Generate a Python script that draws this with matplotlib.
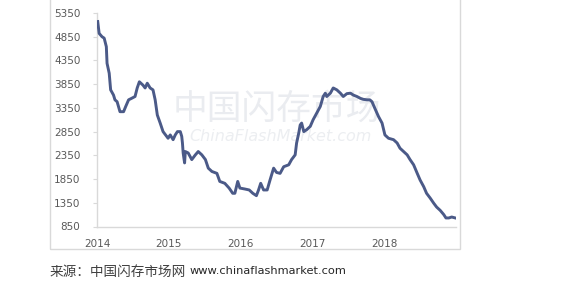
"""Flash price trend 2014-2018, redrawn in the style of the source chart."""

import matplotlib
matplotlib.use("Agg")
import matplotlib.pyplot as plt
from matplotlib.patches import Rectangle

# decimal year, price index
years = [2014.01, 2014.03, 2014.07, 2014.10, 2014.13, 2014.14, 2014.17, 2014.19,
         2014.23, 2014.25, 2014.28, 2014.32, 2014.37, 2014.40, 2014.44, 2014.48,
         2014.53, 2014.56, 2014.59, 2014.64, 2014.67, 2014.70, 2014.74, 2014.78,
         2014.81, 2014.84, 2014.88, 2014.92, 2014.97, 2014.99, 2015.02, 2015.06,
         2015.09, 2015.12, 2015.16, 2015.18, 2015.19, 2015.20, 2015.22, 2015.23,
         2015.27, 2015.32, 2015.37, 2015.41, 2015.46, 2015.51, 2015.55, 2015.60,
         2015.67, 2015.71, 2015.78, 2015.84, 2015.89, 2015.92, 2015.96, 2015.99,
         2016.06, 2016.12, 2016.17, 2016.22, 2016.25, 2016.28, 2016.32, 2016.37,
         2016.41, 2016.46, 2016.50, 2016.55, 2016.60, 2016.67, 2016.71, 2016.76,
         2016.78, 2016.81, 2016.83, 2016.85, 2016.88, 2016.92, 2016.97, 2017.01,
         2017.06, 2017.11, 2017.15, 2017.18, 2017.20, 2017.25, 2017.29, 2017.34,
         2017.39, 2017.43, 2017.48, 2017.53, 2017.57, 2017.62, 2017.67, 2017.71,
         2017.76, 2017.80, 2017.83, 2017.87, 2017.92, 2017.97, 2018.01, 2018.06,
         2018.13, 2018.18, 2018.22, 2018.27, 2018.32, 2018.36, 2018.41, 2018.46,
         2018.50, 2018.55, 2018.59, 2018.64, 2018.69, 2018.73, 2018.78, 2018.83,
         2018.86, 2018.90, 2018.94, 2018.99]
prices = [5170, 4920, 4850, 4820, 4640, 4290, 4080, 3730,
          3620, 3520, 3480, 3270, 3270, 3380, 3520, 3550,
          3590, 3770, 3900, 3830, 3770, 3870, 3770, 3730,
          3520, 3200, 3030, 2850, 2750, 2710, 2780, 2680,
          2780, 2850, 2850, 2750, 2610, 2400, 2190, 2430,
          2400, 2260, 2360, 2430, 2360, 2260, 2080, 2010,
          1970, 1800, 1760, 1660, 1550, 1550, 1800, 1660,
          1640, 1620, 1550, 1500, 1620, 1760, 1620, 1620,
          1830, 2080, 1990, 1970, 2110, 2150, 2260, 2360,
          2610, 2820, 2990, 3030, 2850, 2890, 2960, 3100,
          3240, 3380, 3590, 3660, 3590, 3660, 3770, 3730,
          3660, 3590, 3650, 3660, 3620, 3590, 3550, 3530,
          3520, 3520, 3480, 3340, 3170, 3030, 2780, 2710,
          2680, 2610, 2500, 2430, 2360, 2260, 2150, 1970,
          1830, 1690, 1550, 1450, 1340, 1260, 1190, 1100,
          1030, 1030, 1050, 1030]

year_ticks = [2014, 2015, 2016, 2017, 2018]
price_ticks = [850, 1350, 1850, 2350, 2850, 3350, 3850, 4350, 4850, 5350]
source_cn = "来源：中国闪存市场网"
source_url = "www.chinaflashmarket.com"

W, H = 561, 291
fig = plt.figure(figsize=(W / 100, H / 100), dpi=100)
fig.patch.set_facecolor("white")

# outer chart frame
fig.patches.append(Rectangle((50 / W, 1 - 249 / H), 410 / W, 249 / H + 0.02,
                             transform=fig.transFigure, fill=False,
                             edgecolor="#d9d9d9", linewidth=1.0))

ax = fig.add_axes([97 / W, 1 - 226.5 / H, 359 / W, 213.5 / H])

# faint watermark behind the line
ax.text(0.50, 0.55, "中国闪存市场", transform=ax.transAxes, ha="center",
        va="center", fontsize=25, color="#eaecf0",
        family=["Noto Sans CJK SC", "DejaVu Sans"], zorder=0)
ax.text(0.51, 0.42, "ChinaFlashMarket.com", transform=ax.transAxes,
        ha="center", va="center", fontsize=11.5, style="italic",
        color="#eceef1", zorder=0)

ax.plot(years, prices, color="#4b5a88", linewidth=2.1, zorder=3)

ax.set_xlim(2014, 2019)
ax.set_ylim(850, 5350)
ax.set_xticks(year_ticks)
ax.set_yticks(price_ticks)
ax.tick_params(axis="both", labelsize=7.5, labelcolor="#595959",
               color="#d9d9d9", length=3, width=0.8)
ax.tick_params(axis="x", length=0, pad=9)
ax.tick_params(axis="y", pad=9)
for side in ("top", "right"):
    ax.spines[side].set_visible(False)
for side in ("left", "bottom"):
    ax.spines[side].set_color("#d9d9d9")
    ax.spines[side].set_linewidth(1.0)

fig.text(50 / W, 1 - 271.5 / H, source_cn, ha="left", va="center",
         fontsize=9.8, color="#404040", family=["Noto Sans CJK SC", "DejaVu Sans"])
fig.text(190 / W, 1 - 271.5 / H, source_url, ha="left", va="center",
         fontsize=8.2, color="#262626", family="DejaVu Sans")

fig.savefig("out.png", dpi=100)
